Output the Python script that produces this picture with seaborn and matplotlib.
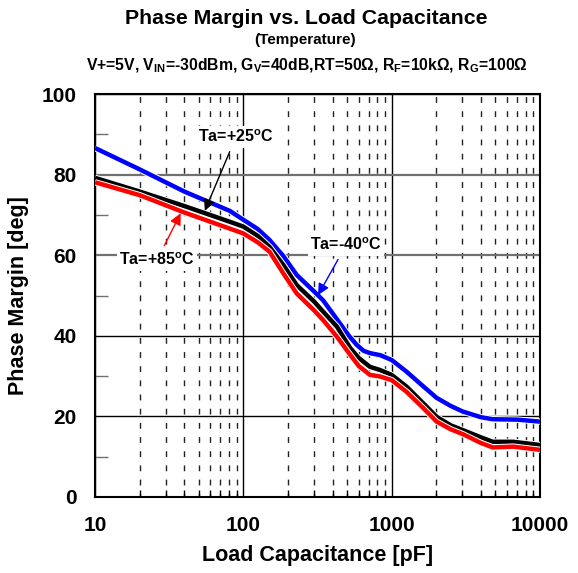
import matplotlib
matplotlib.use("Agg")
import matplotlib.pyplot as plt
import matplotlib.patheffects as pe
from matplotlib.ticker import FixedLocator, FixedFormatter, NullFormatter
import seaborn as sns
import pandas as pd

# ---- data ----
cap_m40 = [10, 20, 40, 81, 100, 125, 150, 186, 229, 300, 345, 420, 515, 580, 645, 714, 837, 1000,
           1260, 1640, 2010, 2500, 3020, 4000, 4800, 7000, 10000]
pm_m40 = [86.6, 81.3, 75.8, 71.0, 68.8, 66.5, 63.8, 59.8, 55.1, 51.0, 48.8, 44.5, 40.0, 37.8, 36.3, 35.7,
          35.2, 34.0, 31.1, 27.4, 24.6, 22.6, 21.2, 19.8, 19.3, 19.2, 18.7]

cap_25 = [10, 20, 40, 81, 100, 125, 150, 186, 229, 300, 345, 427, 525, 600, 714, 837, 1000,
          1260, 1640, 2010, 2500, 3020, 4000, 4800, 6600, 10000]
pm_25 = [79.2, 75.8, 72.2, 68.3, 67.1, 64.8, 62.1, 57.6, 52.6, 48.5, 46.0, 42.3, 37.0, 34.5, 32.3, 31.5,
         30.3, 27.4, 23.2, 19.9, 17.8, 16.6, 14.8, 13.7, 13.7, 12.9]

cap_85 = [10, 20, 40, 81, 100, 125, 150, 186, 229, 300, 345, 427, 525, 600, 714, 837, 1000,
          1260, 1640, 2010, 2500, 3020, 4000, 4800, 6600, 10000]
pm_85 = [78.1, 74.9, 70.6, 66.6, 65.4, 63.2, 60.9, 55.5, 50.5, 46.3, 43.9, 39.8, 35.3, 32.5, 30.3, 29.9,
         29.0, 26.1, 22.0, 18.7, 16.8, 15.6, 13.4, 12.3, 12.5, 11.7]

series_names = ["Ta=-40", "Ta=+25", "Ta=+85"]
series_colors = ["#0000FF", "#000000", "#FF0000"]

x_ticks = [10, 100, 1000, 10000]
x_tick_labels = ["10", "100", "1000", "10000"]
y_ticks = [0, 20, 40, 60, 80, 100]

title = "Phase Margin vs. Load Capacitance"
subtitle = "(Temperature)"
conditions = (r"V+=5V, V$_{\mathrm{IN}}$=-30dBm, G$_{\mathrm{V}}$=40dB,RT=50Ω, "
              r"R$_{\mathrm{F}}$=10kΩ, R$_{\mathrm{G}}$=100Ω")
xlabel = "Load Capacitance [pF]"
ylabel = "Phase Margin [deg]"

df = pd.concat([
    pd.DataFrame({"cap": cap_m40, "pm": pm_m40, "temp": series_names[0]}),
    pd.DataFrame({"cap": cap_25, "pm": pm_25, "temp": series_names[1]}),
    pd.DataFrame({"cap": cap_85, "pm": pm_85, "temp": series_names[2]}),
])

# ---- style ----
sns.set_style("white")
plt.rcParams["font.family"] = ["Liberation Sans", "DejaVu Sans"]
plt.rcParams["font.weight"] = "bold"
plt.rcParams["text.color"] = "black"
plt.rcParams["axes.labelcolor"] = "black"
plt.rcParams["xtick.color"] = "black"
plt.rcParams["ytick.color"] = "black"
plt.rcParams["mathtext.fontset"] = "custom"
plt.rcParams["mathtext.rm"] = "Liberation Sans:bold"
plt.rcParams["mathtext.it"] = "Liberation Sans:bold"
plt.rcParams["mathtext.bf"] = "Liberation Sans:bold"

fig = plt.figure(figsize=(5.78, 5.73), dpi=100)
ax = fig.add_axes([95 / 578, 1 - 497 / 573, 445 / 578, 403 / 573])

ax.set_xscale("log")
ax.set_xlim(10, 10000)
ax.set_ylim(0, 100)

# grids
ax.xaxis.set_major_locator(FixedLocator(x_ticks))
ax.xaxis.set_major_formatter(FixedFormatter(x_tick_labels))
minor_x = [m * d for d in (10, 100, 1000) for m in range(2, 10)]
ax.xaxis.set_minor_locator(FixedLocator(minor_x))
ax.xaxis.set_minor_formatter(NullFormatter())
ax.yaxis.set_major_locator(FixedLocator(y_ticks))
ax.yaxis.set_minor_locator(FixedLocator([10, 30, 50, 70, 90]))

ax.grid(True, which="major", axis="both", color="black", linewidth=1.0, linestyle="-")
ax.grid(True, which="minor", axis="x", color="#222222", linewidth=1.0, linestyle=(1.5, (4.2, 6.0)))
for gl, val in zip(ax.get_ygridlines(), y_ticks):
    if val in (60, 80):
        gl.set_color("#707070")
        gl.set_linewidth(1.6)
ax.set_axisbelow(True)

sns.lineplot(data=df, x="cap", y="pm", hue="temp", palette=series_colors,
             hue_order=series_names, sort=False, estimator=None, linewidth=3.2,
             legend=False, ax=ax, zorder=3,
             path_effects=[pe.Stroke(linewidth=4.6, foreground="white"), pe.Normal()])
for ln in ax.get_lines():
    ln.set_solid_joinstyle("round")
    ln.set_solid_capstyle("butt")

ax.tick_params(axis="both", which="major", length=0, labelsize=15)
ax.tick_params(axis="x", which="major", pad=14)
ax.tick_params(axis="y", which="major", pad=13)
ax.tick_params(axis="y", which="minor", direction="in", length=9, width=1, color="#707070", left=True)
ax.tick_params(axis="x", which="minor", direction="in", length=5, width=1, color="black", bottom=True)
for lab in ax.get_xticklabels() + ax.get_yticklabels():
    lab.set_fontweight("bold")

for s in ax.spines.values():
    s.set_color("black")
    s.set_linewidth(1.5)

ax.set_xlabel(xlabel, fontsize=15.5, fontweight="bold", labelpad=7)
ax.set_ylabel(ylabel, fontsize=15.5, fontweight="bold", labelpad=9)

# titles
fig.text(306 / 578, 1 - 18 / 573, title, ha="center", va="center",
         fontsize=15.3, fontweight="bold")
fig.text(305 / 578, 1 - 40 / 573, subtitle, ha="center", va="center",
         fontsize=11, fontweight="bold")
fig.text(306.5 / 578, 1 - 66 / 573, conditions, ha="center", va="center",
         fontsize=11.3, fontweight="bold")

# annotations
bbox = dict(boxstyle="square,pad=0.15", fc="white", ec="none")
arrow_kw = dict(arrowstyle="-|>", lw=1.0, shrinkA=3, shrinkB=0, mutation_scale=17)
ax.annotate("Ta=+25$^{\\mathrm{o}}$C", xy=(55, 71.0), xytext=(89, 89.3),
            ha="center", va="center", fontsize=11.5, fontweight="bold", bbox=bbox,
            arrowprops=dict(color="black", **arrow_kw))
ax.annotate("Ta=+85$^{\\mathrm{o}}$C", xy=(37.8, 70.4), xytext=(26.2, 58.8),
            ha="center", va="center", fontsize=11.5, fontweight="bold", bbox=bbox,
            arrowprops=dict(color="red", **arrow_kw))
ax.annotate("Ta=-40$^{\\mathrm{o}}$C", xy=(319, 50.1), xytext=(493, 62.5),
            ha="center", va="center", fontsize=11.5, fontweight="bold", bbox=bbox,
            arrowprops=dict(color="blue", **arrow_kw))

fig.savefig("out.png", dpi=100)
